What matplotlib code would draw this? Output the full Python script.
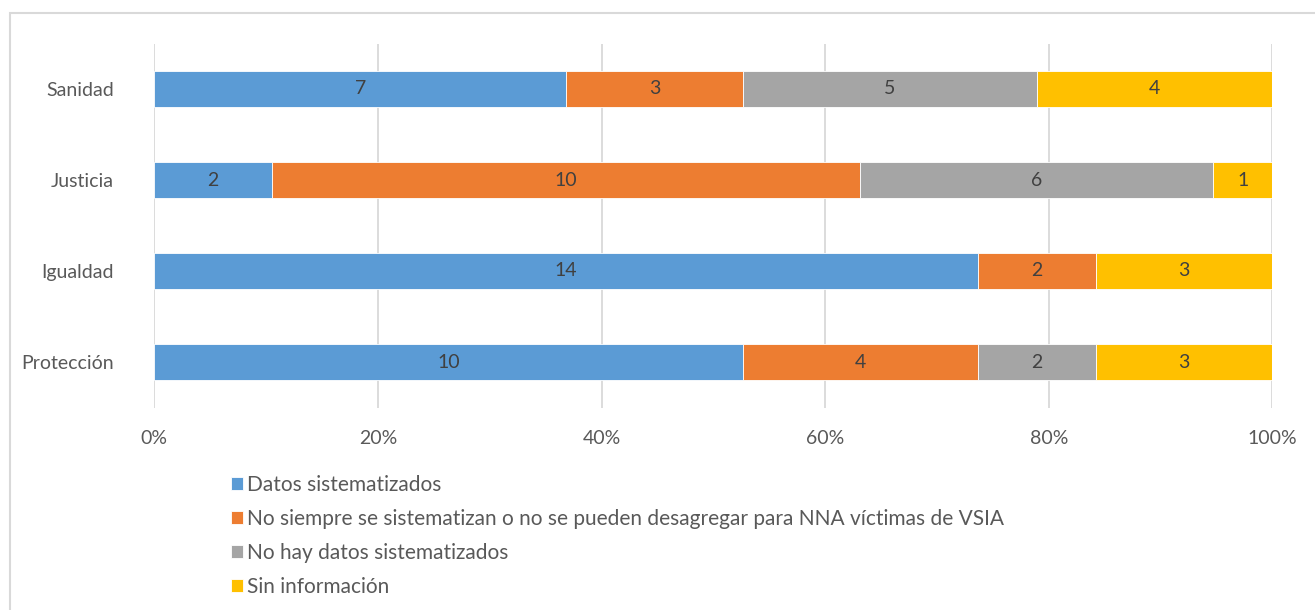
#!/usr/bin/env python3
import numpy as np
import matplotlib.pyplot as plt
from matplotlib.patches import Rectangle

# categories, bottom to top as drawn
categories = ["Protección", "Igualdad", "Justicia", "Sanidad"]

series_names = [
    "Datos sistematizados",
    "No siempre se sistematizan o no se pueden desagregar para NNA víctimas de VSIA",
    "No hay datos sistematizados",
    "Sin información",
]
datos_sist = [10, 14, 2, 7]
no_siempre = [4, 2, 10, 3]
no_hay = [2, 0, 6, 5]
sin_info = [3, 3, 1, 4]

xtick_labels = ["0%", "20%", "40%", "60%", "80%", "100%"]

COLORS = ["#5B9BD5", "#ED7D31", "#A5A5A5", "#FFC000"]
TEXT = "#595959"
LABEL = "#404040"
FONT = "Lato"
FS = 14
FS_LEG = 15


def main():
    plt.rcParams["font.family"] = [FONT, "DejaVu Sans"]

    data = np.array([datos_sist, no_siempre, no_hay, sin_info], dtype=float)
    totals = data.sum(axis=0)
    pct = data / totals

    W, H = 1315, 610
    fig = plt.figure(figsize=(W / 100, H / 100), dpi=100)

    # outer chart border (light gray, runs off right/bottom)
    fig.patches.append(Rectangle((10 / W, -0.05), 1.1, (H - 13) / H + 0.05,
                                 transform=fig.transFigure, fill=False,
                                 edgecolor="#D9D9D9", linewidth=1.5))

    x0, x1 = 154.3, 1272.3
    y_top, y_bot = 43.5, 407.5
    ax = fig.add_axes([x0 / W, 1 - y_bot / H, (x1 - x0) / W, (y_bot - y_top) / H])

    y = np.arange(len(categories))
    left = np.zeros(len(categories))
    handles = []
    for k in range(4):
        bars = ax.barh(y, pct[k], left=left, height=0.4, color=COLORS[k],
                       edgecolor="white", linewidth=0.6, label=series_names[k],
                       zorder=3)
        handles.append(bars)
        for i in range(len(categories)):
            if data[k, i] > 0:
                ax.text(left[i] + pct[k, i] / 2, y[i], f"{int(data[k, i])}",
                        ha="center", va="center", color=LABEL, fontsize=FS,
                        zorder=4)
        left += pct[k]

    ax.set_xlim(0, 1)
    ax.set_ylim(-0.5, len(categories) - 0.5)
    ax.set_xticks(np.linspace(0, 1, 6))
    ax.set_xticklabels(xtick_labels)
    ax.set_yticks(y)
    ax.set_yticklabels(categories)
    ax.tick_params(axis="both", length=0, colors=TEXT, labelsize=FS)
    ax.tick_params(axis="x", pad=16)
    ax.tick_params(axis="y", pad=29)
    ax.grid(axis="x", color="#D9D9D9", linewidth=1.3, zorder=0)
    for s in ax.spines.values():
        s.set_visible(False)

    leg = fig.legend(handles=handles, labels=series_names,
                     loc="upper left", bbox_to_anchor=(231 / W, 1 - 475 / H),
                     ncol=1, frameon=False, fontsize=FS_LEG,
                     handlelength=0.58, handleheight=0.58, handletextpad=0.19,
                     labelspacing=0.67, borderaxespad=0, borderpad=0)
    for t in leg.get_texts():
        t.set_color(TEXT)

    fig.savefig("out.png", dpi=100)


if __name__ == "__main__":
    main()
